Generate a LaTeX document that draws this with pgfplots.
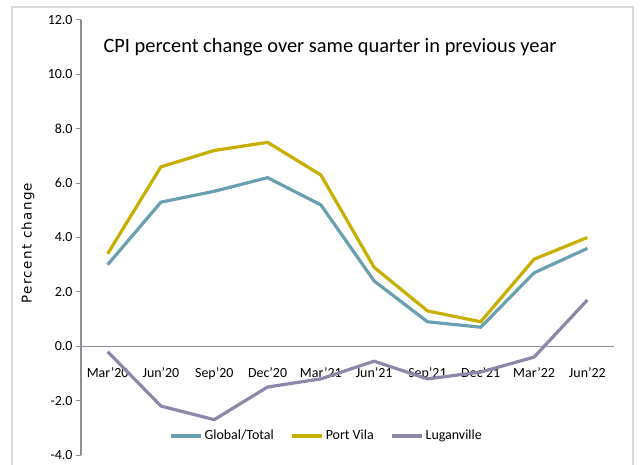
\documentclass[border=0pt]{standalone}
\usepackage{pgfplots}
\pgfplotsset{compat=1.18}
\usepackage{fontspec}
\setmainfont{Carlito}
\newfontfamily\ylabfont[LetterSpace=10]{DejaVu Sans}

\definecolor{cglobal}{HTML}{6A9FB0}
\definecolor{cvila}{HTML}{C8AE00}
\definecolor{clugan}{HTML}{8F87A8}
\definecolor{caxis}{HTML}{8A9099}

\begin{document}
\begin{tikzpicture}
\path[use as bounding box] (0,0) rectangle (641bp,465bp);
\draw[gray!30, line width=1.5bp] (12bp,-5bp) -- (12bp,458bp) -- (633bp,458bp) -- (633bp,-5bp);

\begin{axis}[
    at={(81bp,10bp)}, anchor=south west,
    width=533bp, height=435bp, scale only axis,
    clip=false,
    xmin=0, xmax=10,
    ymin=-4, ymax=12,
    axis x line=middle,
    axis y line=left,
    axis line style={caxis, line width=1.2bp, -},
    xtick={0.5,1.5,...,9.5},
    xticklabels={Mar'20,Jun'20,Sep'20,Dec'20,Mar'21,Jun'21,Sep'21,Dec'21,Mar'22,Jun'22},
    xtick style={draw=none},
    minor xtick={0,1,...,10},
    minor tick length=6bp,
    ytick={-4,-2,...,12},
    major tick length=5bp,
    tick align=outside,
    every tick/.style={caxis, line width=1bp},
    every minor tick/.style={caxis, line width=1bp},
    xticklabel style={font=\fontsize{14}{15}\selectfont, yshift=-13bp},
    yticklabel style={font=\fontsize{14}{15}\selectfont},
    /pgf/number format/assume math mode=true,
    yticklabel={\pgfmathprintnumber[fixed, fixed zerofill, precision=1]{\tick}},
    legend style={draw=none, fill=none, legend columns=3,
        at={(0.46,0.044)}, anchor=center,
        font=\fontsize{14}{15}\selectfont,
        /tikz/every even column/.append style={column sep=14bp},
        legend cell align=left},
    legend image code/.code={\draw[#1, line width=4bp] (0bp,0bp) -- (30bp,0bp);},
]
% Global/Total
\addplot[cglobal, line width=3.2bp] coordinates {
    (0.5,3.0) (1.5,5.3) (2.5,5.7) (3.5,6.2) (4.5,5.2)
    (5.5,2.4) (6.5,0.9) (7.5,0.7) (8.5,2.7) (9.5,3.6)
};
\addlegendentry{Global/Total}
% Port Vila
\addplot[cvila, line width=3.2bp] coordinates {
    (0.5,3.4) (1.5,6.6) (2.5,7.2) (3.5,7.5) (4.5,6.3)
    (5.5,2.9) (6.5,1.3) (7.5,0.9) (8.5,3.2) (9.5,4.0)
};
\addlegendentry{Port Vila}
% Luganville
\addplot[clugan, line width=3.2bp] coordinates {
    (0.5,-0.2) (1.5,-2.2) (2.5,-2.7) (3.5,-1.5) (4.5,-1.2)
    (5.5,-0.55) (6.5,-1.2) (7.5,-0.95) (8.5,-0.4) (9.5,1.7)
};
\addlegendentry{Luganville}
\end{axis}

\node[anchor=west, font=\fontsize{20.5}{22}\selectfont] at (100bp,418bp)
    {CPI percent change over same quarter in previous year};
\node[rotate=90, font=\ylabfont\fontsize{13.5}{14}\selectfont] at (28bp,222bp) {Percent change};
\end{tikzpicture}
\end{document}
